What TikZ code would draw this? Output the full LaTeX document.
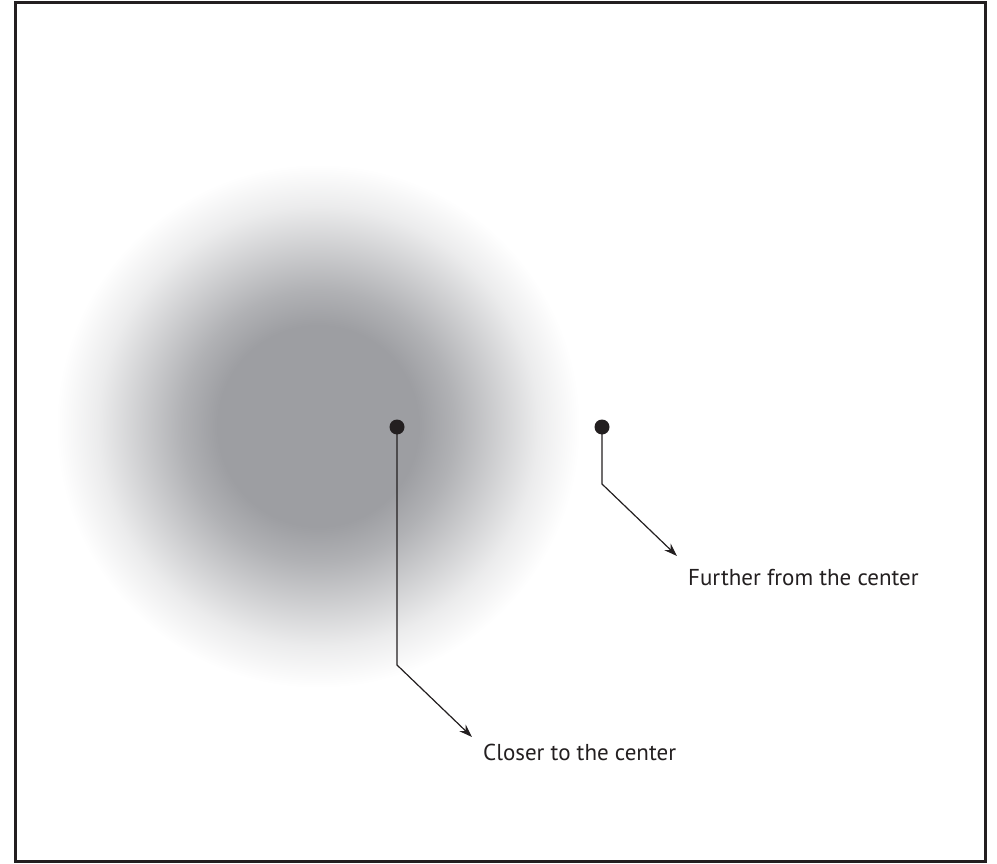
\documentclass[tikz,border=0pt]{standalone}
\usepackage{fontspec}
\setmainfont{PT Sans}
\usetikzlibrary{arrows.meta,positioning}

\definecolor{inkdark}{RGB}{35,31,32}
\definecolor{blobgray}{RGB}{157,158,162}
\pgfdeclareradialshading{blobglow}{\pgfpoint{0bp}{0bp}}{%
  color(0bp)=(blobgray); color(9.6bp)=(blobgray); color(13bp)=(blobgray!80!white);
  color(17bp)=(blobgray!50!white); color(21bp)=(blobgray!20!white);
  color(25bp)=(white); color(50bp)=(white)}

\begin{document}
\begin{tikzpicture}[
    x=1pt, y=-1pt,
    dot/.style={circle, fill=inkdark, inner sep=0pt, minimum size=15pt},
    label/.style={inner sep=0pt, anchor=base west, text=inkdark, font=\fontsize{23}{27}\selectfont},
    pointer/.style={draw=inkdark, line width=1.2pt, -{Stealth[length=13pt, width=9pt]}}
]
\useasboundingbox (0,0) rectangle (997,864);

% frame and blob
\draw[inkdark, line width=3pt] (15.5,2.5) rectangle (985.5,861.5);
\shade[shading=blobglow] (318,426) circle (262);

\node[dot] (near_dot) at (397,427) {};
\node[dot] (far_dot) at (602,427) {};

\coordinate (near_bend) at (397,665);
\coordinate (near_tip) at (472,737);
\coordinate (far_bend) at (602,484);
\coordinate (far_tip) at (677,556);

\node[label] (near_label) at (483,760) {Closer to the center};
\node[label] (far_label) at (688,585) {Further from the center};

\draw[pointer] (near_dot.center) -- (near_bend) -- (near_tip);
\draw[pointer] (far_dot.center) -- (far_bend) -- (far_tip);

\end{tikzpicture}
\end{document}
